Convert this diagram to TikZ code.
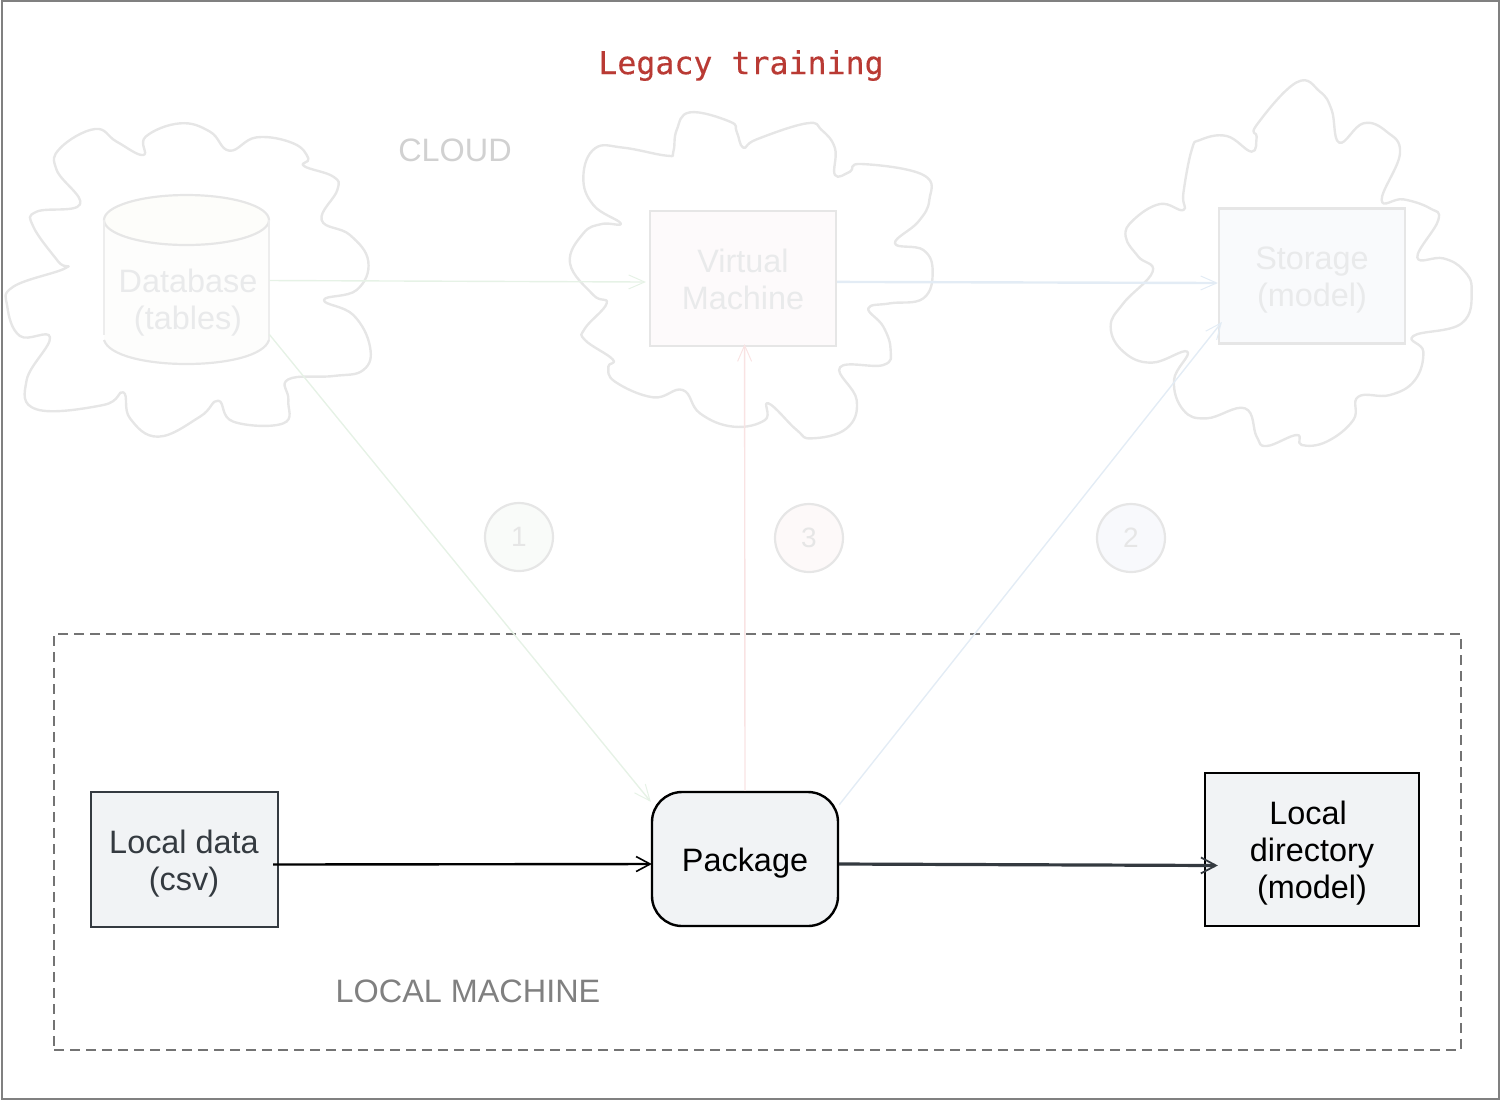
\documentclass[tikz,border=0pt]{standalone}
\usepackage{fontspec}
\setmainfont{Liberation Sans}
\newfontfamily\titlemono[FakeBold=0.35]{DejaVu Sans Mono}
\usetikzlibrary{arrows.meta}
\definecolor{cloudline}{HTML}{E6E6E6}
\definecolor{paletext}{HTML}{E9EAEB}
\definecolor{palegreen}{HTML}{E6F2E6}
\definecolor{palered}{HTML}{F9E3E3}
\definecolor{paleblue}{HTML}{E3ECF5}
\definecolor{boxfill}{HTML}{F1F3F5}
\definecolor{darkline}{HTML}{343A40}
\definecolor{titlered}{HTML}{B93A34}
\definecolor{dbbody}{HTML}{FDFDFC}
\definecolor{dbtop}{HTML}{FDFDFA}
\definecolor{vmfill}{HTML}{FDFAFB}
\definecolor{stfill}{HTML}{F9FAFC}
\definecolor{onefill}{HTML}{F9FBF9}
\definecolor{threefill}{HTML}{FDF9F9}
\definecolor{twofill}{HTML}{F8F9FC}
\tikzset{
  px/.style={x=0.5pt,y=-0.5pt},
  txt/.style={font=\fontsize{16.2}{18.5}\selectfont,align=center,inner sep=0pt},
  fadedbox/.style={rectangle,draw=cloudline,line width=1.1pt,minimum width=93pt,minimum height=67.5pt,inner sep=0pt},
  localbox/.style={rectangle,line width=1.2pt,fill=boxfill,inner sep=0pt},
  badge/.style={circle,draw=cloudline,line width=1.1pt,minimum size=34pt,inner sep=0pt,font=\fontsize{14}{16}\selectfont,text=cloudline},
  cloudshape/.style={draw=cloudline,line width=1.2pt,line join=round},
  link/.style={-{Straight Barb[length=8pt,width=7pt,line width=.5pt]}},
}
\begin{document}
\begin{tikzpicture}[px]
\useasboundingbox (0,0) rectangle (1500,1100);
\node[draw=black!50,line width=1pt,outer sep=0pt,minimum width=748.5pt,minimum height=549pt,inner sep=0pt,anchor=north west] (outer) at (2,1) {};
\node[txt,font=\titlemono\fontsize{15.8}{18}\selectfont,text=titlered] (title) at (741,65.5) {Legacy training};
\node[txt,text=black!18] (cloudlabel) at (455,150) {CLOUD};

% clouds
\begin{scope}[shift={(0,80)},scale=1/3]
\draw[cloudshape] plot[smooth cycle,tension=.72] coordinates {(430,225)(437,170)(540,130)(630,155)(688,212)(770,172)(880,190)(925,235)(912,258)(1000,290)(1012,330)(965,420)(1050,465)(1105,545)(1070,630)(972,660)(1060,705)(1110,800)(1090,870)(1000,888)(865,898)(865,960)(850,1030)(700,1025)(655,962)(600,1010)(475,1070)(390,1015)(370,937)(310,975)(110,988)(80,900)(150,772)(60,768)(22,680)(40,620)(195,565)(175,545)(100,440)(110,395)(240,373)(170,270)(180,205)(285,147)(350,185)};
\end{scope}
\begin{scope}[shift={(540,80)},scale=1/3]
\draw[cloudshape] plot[smooth cycle,tension=.72] coordinates {(400,215)(410,150)(450,97)(570,125)(590,155)(610,203)(650,178)(800,130)(845,150)(885,205)(885,285)(930,275)(965,252)(1150,285)(1168,360)(1135,425)(1065,490)(1150,510)(1178,575)(1150,655)(1050,670)(985,685)(1030,740)(1052,810)(1030,855)(900,862)(950,960)(920,1045)(815,1075)(770,1050)(685,970)(675,1020)(580,1040)(480,1000)(428,930)(340,952)(225,905)(205,860)(218,838)(135,780)(135,745)(200,670)(160,645)(90,550)(130,460)(185,432)(242,430)(160,375)(130,290)(165,205)(250,203)(380,227)};
\end{scope}
\begin{scope}[shift={(1080,70)},scale=1/3]
\draw[cloudshape] plot[smooth cycle,tension=.72] coordinates {(515,245)(530,200)(530,165)(650,37)(720,65)(755,120)(778,218)(850,160)(920,185)(960,250)(905,390)(970,388)(1050,415)(1075,450)(1012,562)(1090,565)(1150,600)(1175,660)(1145,760)(1000,798)(1030,845)(1005,930)(930,975)(835,980)(820,1050)(740,1115)(665,1125)(650,1095)(560,1128)(530,1100)(495,1015)(380,1045)(310,1020)(282,930)(322,845)(215,878)(130,845)(92,770)(130,700)(218,605)(175,560)(137,500)(160,450)(240,402)(310,420)(310,370)(335,240)(360,210)(440,198)};
\end{scope}

% database cylinder
\fill[dbbody] (104,220) -- (269,220) -- (269,340) .. controls (259,372) and (114,372) .. (104,340) -- cycle;
\filldraw[fill=dbtop,draw=cloudline,line width=1.1pt] (186.5,220) ellipse [x radius=82.5,y radius=25];
\draw[draw=cloudline!70!white,line width=1.1pt] (104,220) -- (104,335) (269,220) -- (269,340);
\draw[draw=cloudline,line width=1.1pt] (104,340) .. controls (114,372) and (259,372) .. (269,340);
\node[rectangle,minimum width=82.5pt,minimum height=85.5pt,inner sep=0pt] (db) at (186.5,280.5) {};
\node[txt,text=paletext] (dbtext) at (188,302.5) {Database\\(tables)};

\node[fadedbox,fill=vmfill] (vm) at (743,278.5) {};
\node[txt,text=paletext] (vmtext) at (743,279.5) {Virtual\\Machine};
\node[fadedbox,fill=stfill] (st) at (1312,276) {};
\node[txt,text=paletext] (sttext) at (1312,280.5) {Storage\\(model)};

% badges
\node[badge,fill=onefill] (one) at (519,537) {1};
\node[badge,fill=threefill] (three) at (809,538) {3};
\node[badge,fill=twofill] (two) at (1131,538) {2};

% local frame
\node[draw=black!55,line width=.55pt,dash pattern=on 5pt off 3pt,minimum width=703.5pt,minimum height=208pt,inner sep=0pt] (frame) at (757.5,842) {};
\node[txt,text=black!50] (locallabel) at (468,991) {LOCAL MACHINE};

% local nodes
\node[localbox,draw=darkline,minimum width=93.5pt,minimum height=67.5pt] (ld) at (184.5,859.5) {};
\node[txt,text=darkline] (ldtext) at (184,864) {Local data\\(csv)};
\node[localbox,draw=black,rounded corners=15pt,minimum width=93pt,minimum height=67pt] (pkg) at (745,859) {};
\node[txt] (pkgtext) at (745,863) {Package};
\node[localbox,draw=black,minimum width=107pt,minimum height=76.5pt] (dir) at (1312,849.5) {};
\node[txt] (dirtext) at (1312,853) {Local\hspace*{4pt}\\directory\\(model)};

% faded connectors
\draw[link,draw=palegreen,line width=.7pt] (db.east) -- ([xshift=-1.5pt,yshift=-1.75pt]vm.west);
\draw[link,draw=palegreen,line width=.7pt] ([yshift=-27pt]db.east) -- ([yshift=-5.5pt]pkg.north west);
\draw[link,draw=paleblue,line width=1.2pt] ([yshift=-1.7pt]vm.east) -- ([yshift=-3.5pt]st.west);
\draw[link,draw=palered,line width=.7pt] (pkg.north) -- ([xshift=.8pt,yshift=1.5pt]vm.south);
\draw[link,draw=paleblue,line width=.7pt] ([yshift=-7pt]pkg.north east) -- ([yshift=-23pt,xshift=2pt]st.west);

% local connectors
\draw[draw=black,line width=1.2pt,-{Straight Barb[length=7pt,width=7.5pt,line width=.8pt]}] ([yshift=-2.5pt,xshift=-3pt]ld.east) -- ([yshift=-2.5pt,xshift=.5pt]pkg.west);
\draw[draw=darkline,line width=1.6pt,-{Straight Barb[length=7.5pt,width=8pt,line width=.9pt]}] ([yshift=-2.5pt]pkg.east) -- ([yshift=-8pt,xshift=7pt]dir.west);
\end{tikzpicture}
\end{document}
